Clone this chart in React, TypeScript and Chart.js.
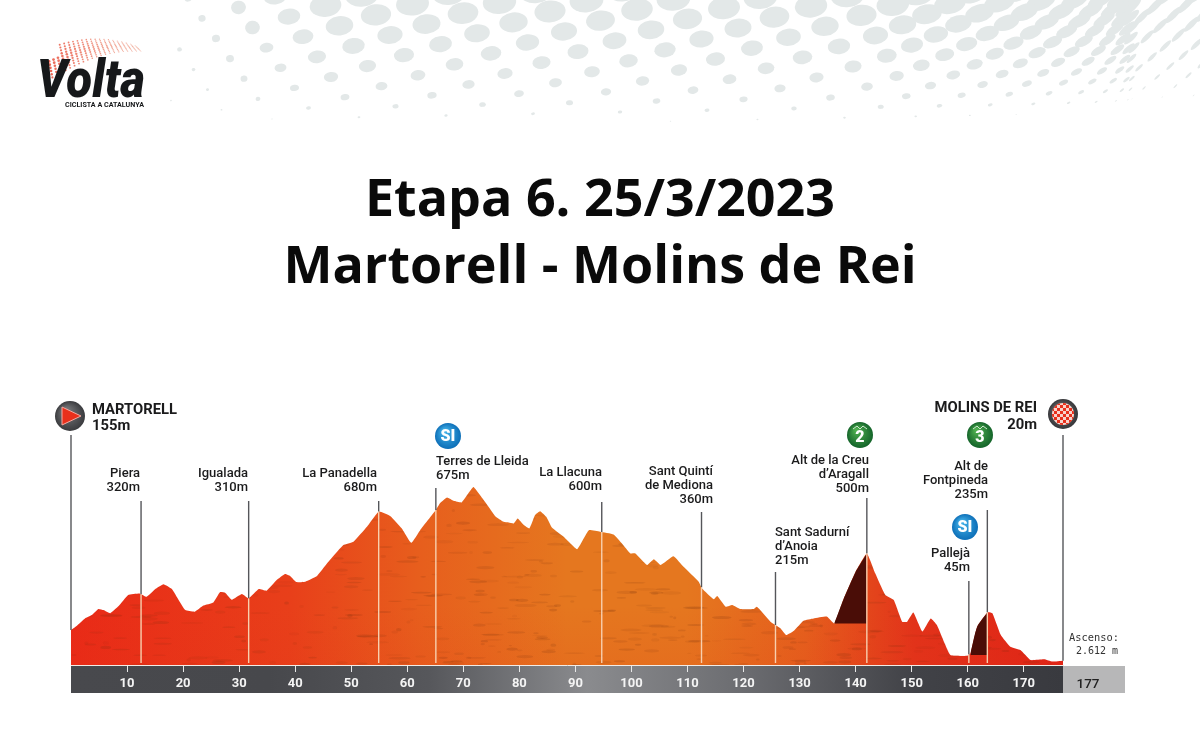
import React, { useEffect, useRef } from "react";
import { Chart, registerables } from "chart.js";

Chart.register(...registerables);

const profileKm = [0,1,2.5,3.7,4.9,5.8,7,8.5,10.2,12.3,13.5,15,16.5,18,19.2,20.4,22.1,23.6,25.4,26.6,27.5,28.7,30.5,31.7,33.5,34.9,36.7,38.2,39.1,40.2,41.8,43.9,45.7,48.6,50.4,52.8,54.9,57,59,60.7,62.3,65.1,65.9,67.1,68.3,69.7,70.9,71.8,73,74.5,75.7,77.2,78.1,79,79.7,80.8,81.8,82.8,83.7,84.8,85.8,87.9,90.3,91.5,92.4,94.4,96.8,98.3,99.8,100.7,102.8,104,105.2,107.5,109.3,112,112.6,114.7,115.3,116.8,118,119.4,121.8,122.4,124.8,125.7,126.6,127.6,129,130.7,132.5,134.9,136.2,137.9,140,142,143.5,145.3,146.8,148.3,149.2,150.3,151.9,153.4,154.5,156.9,159.9,160.5,161.7,163.5,164.4,165.9,167.6,169.4,171.2,173.6,175.1,177];
const profileElevation = [155,173,206,221,248,243,229,261,310,316,302,335,357,336,288,243,236,263,277,323,320,289,314,295,336,329,376,403,394,367,369,394,450,531,546,612,679,659,605,541,597,686,718,742,727,720,760,788,752,701,659,634,631,627,649,620,605,664,681,656,609,568,513,561,597,590,578,538,494,494,443,468,443,482,435,369,339,291,305,258,266,248,248,258,192,177,162,133,152,196,206,214,184,295,413,494,406,310,288,192,192,232,148,206,177,44,41,52,170,233,229,133,81,66,22,25,15,19];
const climbTwoKm = [136.2,137.9,140,142];
const climbTwoElevation = [184,295,413,494];
const climbThreeKm = [160.5,161.7,163.5];
const climbThreeElevation = [52,170,233];
const markerKm = [0,12.5,31.7,54.9,65.1,94.7,112.5,125.7,142,160.2,163.5,177];
const xTicks = [10,20,30,40,50,60,70,80,90,100,110,120,130,140,150,160,170];
const totalKm = "177";
const titleLines = ["Etapa 6. 25/3/2023", "Martorell - Molins de Rei"];

const placeLabels: string[][] = [
  ["Piera", "320m"],
  ["Igualada", "310m"],
  ["La Panadella", "680m"],
  ["Terres de Lleida", "675m"],
  ["La Llacuna", "600m"],
  ["Sant Quintí", "de Mediona", "360m"],
  ["Sant Sadurní", "d’Anoia", "215m"],
  ["Alt de la Creu", "d’Aragall", "500m"],
  ["Pallejà", "45m"],
  ["Alt de", "Fontpineda", "235m"],
];
const startLabel = ["MARTORELL", "155m"];
const finishLabel = ["MOLINS DE REI", "20m"];
const ascentLabel = ["Ascenso:", "2.612 m"];
const logoText = ["Volta", "CICLISTA A CATALUNYA"];

// layout only (pixels)
const placeLayout: [number, number, CanvasTextAlign][] = [
  [140, 474, "right"], [248, 474, "right"], [377, 474, "right"], [436, 462, "left"], [602, 473, "right"],
  [713, 472, "right"], [775, 533, "left"], [869, 461, "right"], [970, 554, "right"], [988, 467, "right"],
];
const stemTops = [435, 501, 501, 501, 488, 502, 512, 572, 498, 581, 510, 435];

function pair(xs: number[], ys: number[]) {
  return xs.map((x, i) => ({ x, y: ys[i] }));
}

function elevationAt(km: number) {
  for (let i = 1; i < profileKm.length; i++) {
    if (km <= profileKm[i]) {
      const t = (km - profileKm[i - 1]) / (profileKm[i] - profileKm[i - 1]);
      return profileElevation[i - 1] + t * (profileElevation[i] - profileElevation[i - 1]);
    }
  }
  return profileElevation[profileElevation.length - 1];
}

function hash(n: number) {
  const s = Math.sin(n * 127.1) * 43758.5453;
  return s - Math.floor(s);
}

function drawHalftone(ctx: CanvasRenderingContext2D) {
  ctx.save();
  ctx.fillStyle = "#e3e8e8";
  for (let r = -2; r < 16; r++) {
    for (let c = -2; c < 30; c++) {
      const u = 101 + 87 * c + (r % 2 !== 0 ? 43.5 : 0) + r * 7;
      let x = u;
      let y = r * 10.2 - 6 - (u - 400) * 0.02;
      let prog = 0;
      if (u > 880) {
        const d = u - 880;
        prog = Math.min(1, d / 700);
        x = 880 + d * (0.72 - 0.36 * prog);
        y = y + 6 * prog;
      }
      if (x < 170 || x > 1215 || y < -14 || y > 135) continue;
      let t = 1 - y / (125 - 22 * prog);
      if (t <= 0.02) continue;
      t = Math.min(1, t);
      let rx = 17 * Math.pow(t, 0.9);
      rx *= Math.min(1, Math.max(0.22, (x - 160) / 170));
      rx *= 1 - 0.22 * prog;
      if (rx < 0.6) continue;
      const ry = rx * (0.7 - 0.42 * prog) * (x < 260 ? 1.3 : 1);
      const rot = -0.12 - 0.66 * prog;
      ctx.beginPath();
      ctx.ellipse(x, y, rx, ry, rot, 0, Math.PI * 2);
      ctx.fill();
    }
  }
  ctx.restore();
}

function drawLogo(ctx: CanvasRenderingContext2D) {
  ctx.save();
  for (let i = 0; i < 22; i++) {
    for (let j = 0; j < 10; j++) {
      const a = i / 21;
      const b = j / 9;
      const x = 42 + a * 93 + b * 6;
      const arcTop = 50 - 12 * Math.sin(a * Math.PI * 0.78) + 3 * a * a;
      const y = arcTop + b * (30 - 24 * a);
      const rad = (1.5 - 0.9 * a) * (0.5 + 0.5 * (1 - Math.abs(b - 0.5)));
      ctx.fillStyle = `rgba(232,${70 + a * 50},${50 + a * 40},${0.85 - 0.35 * a})`;
      if (a < 0.15 && b < 0.4) continue;
      ctx.beginPath();
      ctx.arc(x, y, rad, 0, Math.PI * 2);
      ctx.fill();
    }
  }
  ctx.fillStyle = "#16181a";
  ctx.textAlign = "left";
  ctx.textBaseline = "alphabetic";
  ctx.font = "italic 900 53px Roboto";
  ctx.fillText(logoText[0], 37, 97, 108);
  ctx.font = "700 8px Roboto";
  ctx.fillText(logoText[1], 65, 107, 79);
  ctx.restore();
}

function badge(ctx: CanvasRenderingContext2D, x: number, y: number, r: number, light: string, dark: string) {
  const g = ctx.createRadialGradient(x - r * 0.3, y - r * 0.4, 1, x, y, r);
  g.addColorStop(0, light);
  g.addColorStop(1, dark);
  ctx.fillStyle = g;
  ctx.beginPath();
  ctx.arc(x, y, r, 0, Math.PI * 2);
  ctx.fill();
}

function drawSI(ctx: CanvasRenderingContext2D, x: number, y: number) {
  badge(ctx, x, y, 13, "#45b4ea", "#0d6fb8");
  ctx.fillStyle = "#fff";
  ctx.font = "900 16px Roboto";
  ctx.textAlign = "center";
  ctx.textBaseline = "middle";
  ctx.fillText("SI", x, y + 1);
}

function drawClimb(ctx: CanvasRenderingContext2D, x: number, y: number, label: string) {
  badge(ctx, x, y, 13, "#4fb04f", "#14642a");
  ctx.strokeStyle = "#cfe8cf";
  ctx.lineWidth = 1;
  ctx.beginPath();
  ctx.moveTo(x - 7, y - 6);
  ctx.lineTo(x - 3, y - 9);
  ctx.lineTo(x, y - 6);
  ctx.lineTo(x + 3, y - 9);
  ctx.lineTo(x + 7, y - 6);
  ctx.stroke();
  ctx.fillStyle = "#fff";
  ctx.font = "900 16px Roboto";
  ctx.textAlign = "center";
  ctx.textBaseline = "middle";
  ctx.fillText(label, x, y + 3);
}

function drawStart(ctx: CanvasRenderingContext2D, x: number, y: number) {
  badge(ctx, x, y, 15, "#7c7d80", "#3a3b3e");
  ctx.beginPath();
  ctx.moveTo(x - 8, y - 9);
  ctx.lineTo(x + 11, y);
  ctx.lineTo(x - 8, y + 9);
  ctx.closePath();
  ctx.fillStyle = "#e8301c";
  ctx.fill();
  ctx.strokeStyle = "#f4a9a0";
  ctx.lineWidth = 1;
  ctx.stroke();
}

function drawFinish(ctx: CanvasRenderingContext2D, x: number, y: number) {
  badge(ctx, x, y, 15, "#6d6e71", "#37383b");
  ctx.save();
  ctx.beginPath();
  ctx.arc(x, y, 11, 0, Math.PI * 2);
  ctx.clip();
  ctx.fillStyle = "#f7d4cc";
  ctx.fillRect(x - 12, y - 12, 24, 24);
  ctx.fillStyle = "#e8301c";
  const s = 3;
  for (let i = -4; i < 4; i++) {
    for (let j = -4; j < 4; j++) {
      if ((i + j) % 2 === 0) ctx.fillRect(x + i * s, y + j * s, s, s);
    }
  }
  ctx.restore();
}

function drawTexture(ctx: CanvasRenderingContext2D, chart: any) {
  const xs = chart.scales.x;
  const ys = chart.scales.y;
  ctx.save();
  ctx.beginPath();
  ctx.moveTo(xs.getPixelForValue(0), ys.getPixelForValue(0));
  profileKm.forEach((k, i) => ctx.lineTo(xs.getPixelForValue(k), ys.getPixelForValue(profileElevation[i])));
  ctx.lineTo(xs.getPixelForValue(177), ys.getPixelForValue(0));
  ctx.closePath();
  ctx.clip();
  const a = chart.chartArea;
  const low = ctx.createLinearGradient(0, a.bottom - 60, 0, a.bottom);
  low.addColorStop(0, "rgba(226,50,24,0)");
  low.addColorStop(1, "rgba(226,50,24,0.12)");
  ctx.fillStyle = low;
  ctx.fillRect(a.left, a.bottom - 60, a.right - a.left, 60);
  for (let i = 0; i < 620; i++) {
    const x = a.left + hash(i + 1) * (a.right - a.left);
    const y = a.bottom - Math.pow(hash(i + 501), 1.15) * 170;
    const w = 3 + hash(i + 901) * 20;
    ctx.fillStyle = `rgba(110,45,15,${0.05 + hash(i + 1301) * 0.12})`;
    ctx.beginPath();
    ctx.ellipse(x, y, w / 2, 0.6 + hash(i + 1701) * 1.1, 0, 0, Math.PI * 2);
    ctx.fill();
  }
  ctx.restore();
}

const stagePlugin = {
  id: "stage",
  beforeDraw(chart: any) {
    const ctx: CanvasRenderingContext2D = chart.ctx;
    const a = chart.chartArea;
    ctx.save();
    ctx.fillStyle = "#ffffff";
    ctx.fillRect(0, 0, chart.width, chart.height);
    drawHalftone(ctx);
    drawLogo(ctx);
    const g = ctx.createLinearGradient(a.left, 0, a.right, 0);
    g.addColorStop(0, "#48494d");
    g.addColorStop(0.2, "#47484c");
    g.addColorStop(0.36, "#56575b");
    g.addColorStop(0.52, "#8a8b8e");
    g.addColorStop(0.68, "#6b6c70");
    g.addColorStop(0.85, "#414247");
    g.addColorStop(1, "#393a3f");
    ctx.fillStyle = g;
    ctx.fillRect(a.left, a.bottom, a.right - a.left, 28);
    ctx.fillStyle = "#b7b7b8";
    ctx.fillRect(a.right, a.bottom + 1, 62, 27);
    ctx.restore();
  },
  afterDatasetsDraw(chart: any) {
    const ctx: CanvasRenderingContext2D = chart.ctx;
    const xs = chart.scales.x;
    const ys = chart.scales.y;
    const a = chart.chartArea;
    ctx.save();
    markerKm.forEach((km, i) => {
      const x = xs.getPixelForValue(km);
      const top = ys.getPixelForValue(elevationAt(km));
      ctx.lineWidth = 1.4;
      ctx.strokeStyle = "#55565a";
      ctx.beginPath();
      ctx.moveTo(x, stemTops[i]);
      ctx.lineTo(x, top);
      ctx.stroke();
      if (i > 0 && i < markerKm.length - 1) {
        ctx.strokeStyle = "#f8cfae";
        ctx.beginPath();
        ctx.moveTo(x, top);
        ctx.lineTo(x, a.bottom - 2);
        ctx.stroke();
      }
    });
    ctx.restore();
  },
  afterDraw(chart: any) {
    const ctx: CanvasRenderingContext2D = chart.ctx;
    const a = chart.chartArea;
    ctx.save();
    ctx.fillStyle = "#1b1b1c";
    ctx.textBaseline = "middle";
    ctx.font = "500 13px Roboto";
    placeLabels.forEach((lines, i) => {
      const [x, y, align] = placeLayout[i];
      ctx.textAlign = align;
      lines.forEach((t, j) => ctx.fillText(t, x, y + j * 14));
    });
    ctx.font = "700 14.8px Roboto";
    ctx.textAlign = "left";
    ctx.fillText(startLabel[0], 92, 410);
    ctx.fillText(startLabel[1], 92, 426);
    ctx.textAlign = "right";
    ctx.fillText(finishLabel[0], 1037, 408);
    ctx.fillText(finishLabel[1], 1037, 425);
    ctx.font = "500 11px 'DejaVu Sans Mono'";
    ctx.fillStyle = "#333";
    ctx.textAlign = "left";
    ctx.fillText(ascentLabel[0], 1069, 638, 50);
    ctx.textAlign = "right";
    ctx.fillText(ascentLabel[1], 1118, 651, 42);
    ctx.font = "500 13.5px Roboto";
    ctx.fillStyle = "#222";
    ctx.textAlign = "center";
    ctx.fillText(totalKm, 1088, a.bottom + 20);
    drawStart(ctx, 70, 416);
    drawFinish(ctx, 1063, 414);
    drawSI(ctx, 448, 436);
    drawSI(ctx, 965, 527);
    drawClimb(ctx, 860, 435, "2");
    drawClimb(ctx, 980, 435, "3");
    ctx.restore();
  },
};

const PROFILE_INDEX = 2;

const texturePlugin = {
  id: "texture",
  afterDatasetDraw(chart: any, args: any) {
    if (args.index === PROFILE_INDEX) drawTexture(chart.ctx, chart);
  },
};

function hiddenAxis(position: string, width: number, extra: any = {}) {
  return {
    position,
    display: true,
    grid: { display: false },
    border: { display: false },
    ticks: { display: false },
    afterFit(s: any) { s.width = width; },
    ...extra,
  };
}

export default function App() {
  const ref = useRef<HTMLCanvasElement>(null);
  useEffect(() => {
    document.body.style.margin = "0";
    const chart = new Chart(ref.current!, {
      type: "line",
      data: {
        datasets: [
          {
            label: "Alt de la Creu d'Aragall",
            data: pair(climbTwoKm, climbTwoElevation),
            fill: { value: climbTwoElevation[0] },
            borderWidth: 0,
            pointRadius: 0,
            tension: 0.1,
            backgroundColor: "#4a0d07",
          },
          {
            label: "Alt de Fontpineda",
            data: pair(climbThreeKm, climbThreeElevation),
            fill: { value: 44 },
            borderWidth: 0,
            pointRadius: 0,
            tension: 0.25,
            backgroundColor: "#4a0d07",
          },
          {
            label: "Perfil",
            data: pair(profileKm, profileElevation),
            fill: "origin",
            borderWidth: 0,
            pointRadius: 0,
            tension: 0.12,
            backgroundColor(c: any) {
              const a = c.chart.chartArea;
              if (!a) return "#e5601d";
              const g = c.chart.ctx.createLinearGradient(a.left, 0, a.right, 0);
              g.addColorStop(0, "#e92a17");
              g.addColorStop(0.22, "#e83f1a");
              g.addColorStop(0.35, "#e75e1d");
              g.addColorStop(0.5, "#e5771f");
              g.addColorStop(0.62, "#e5771f");
              g.addColorStop(0.74, "#e5601d");
              g.addColorStop(0.85, "#e2331a");
              g.addColorStop(1, "#df2316");
              return g;
            },
          },
        ],
      },
      plugins: [stagePlugin, texturePlugin],
      options: {
        responsive: false,
        animation: false,
        layout: { padding: { left: 0, right: 0, top: 0, bottom: 44 } },
        plugins: {
          legend: { display: false },
          tooltip: { enabled: false },
          title: {
            display: true,
            text: titleLines,
            color: "#0a0a0a",
            font: { family: "'Open Sans'", weight: "700", size: 52, lineHeight: 1.29 },
            padding: { top: 168, bottom: 98 },
          },
        },
        scales: {
          x: {
            type: "linear",
            min: 0,
            max: 177,
            position: "bottom",
            grid: { drawOnChartArea: false, drawTicks: true, tickLength: 7, color: "#e8e8e8", lineWidth: 1 },
            border: { display: true, color: "#f2ece6", width: 1 },
            ticks: {
              stepSize: 10,
              includeBounds: false,
              color: "#f4f4f4",
              padding: 4,
              maxRotation: 0,
              autoSkip: false,
              font: { family: "Roboto", weight: "700", size: 13 },
            },
            afterBuildTicks(s: any) { s.ticks = xTicks.map((value) => ({ value })); },
            afterFit(s: any) { s.height = 29; },
          },
          y: hiddenAxis("left", 71, { type: "linear", min: 0, max: 1172.6 }),
          yRight: hiddenAxis("right", 137, { type: "linear", min: 0, max: 1 }),
        },
      } as any,
    });
    return () => chart.destroy();
  }, []);
  return (
    <canvas
      ref={ref}
      width={1200}
      height={738}
      style={{ position: "absolute", left: 0, top: 0, width: 1200, height: 738 }}
    />
  );
}
